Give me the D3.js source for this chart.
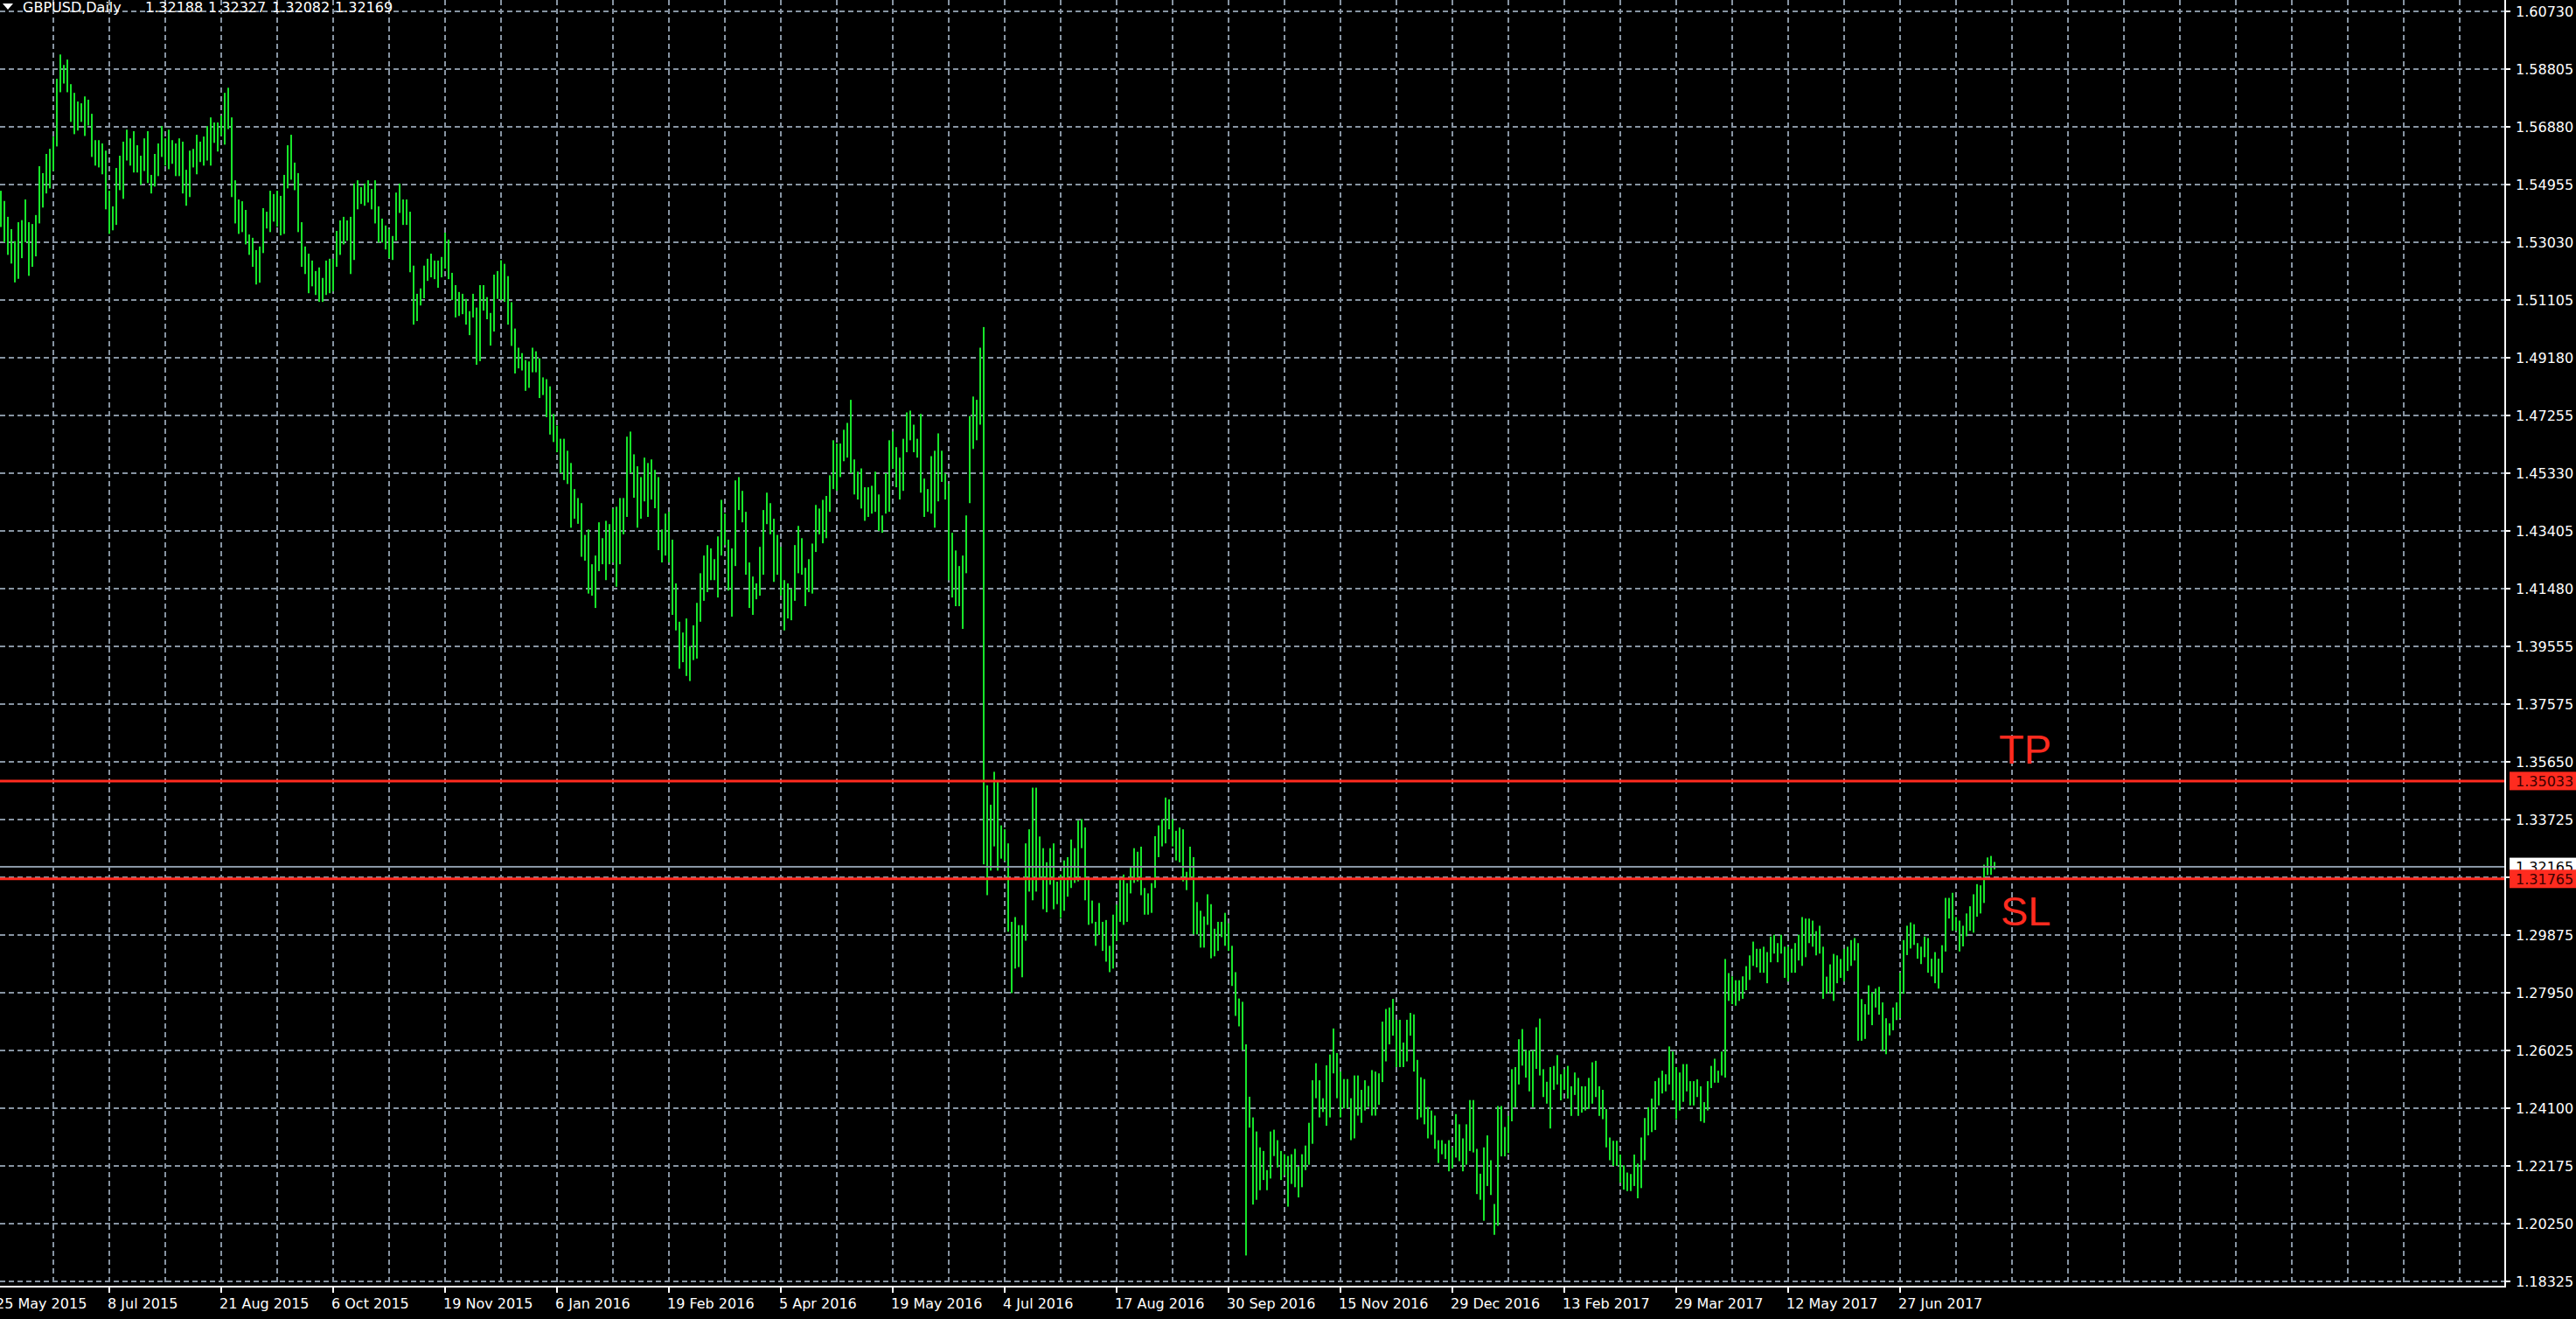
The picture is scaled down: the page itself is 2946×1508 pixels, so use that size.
<!DOCTYPE html>
<html><head><meta charset="utf-8">
<script src="https://cdn.jsdelivr.net/npm/d3@7"></script>
<style>html,body{margin:0;padding:0;background:#000;overflow:hidden}</style>
</head><body><svg id="c" width="2946" height="1508"></svg>
<script>
// ---- data (GBPUSD daily bars, index 1 = 26 May 2015) ----
const symbolTitle = "GBPUSD,Daily";
const lastBarOHLC = ["1.32188", "1.32327", "1.32082", "1.32169"];

const highs = [
1.5474,1.5440,1.5387,1.5346,1.5306,1.5369,1.5376,1.5445,1.5369,1.5363,
1.5393,1.5556,1.5533,1.5597,1.5614,1.5655,1.5848,1.5929,1.5894,1.5912,
1.5830,1.5801,1.5772,1.5766,1.5789,1.5778,1.5731,1.5643,1.5643,1.5632,
1.5608,1.5474,1.5422,1.5550,1.5591,1.5638,1.5678,1.5649,1.5673,1.5626,
1.5591,1.5649,1.5673,1.5527,1.5597,1.5632,1.5690,1.5649,1.5678,1.5643,
1.5632,1.5649,1.5638,1.5544,1.5608,1.5614,1.5661,1.5638,1.5655,1.5690,
1.5719,1.5702,1.5702,1.5725,1.5801,1.5818,1.5719,1.5509,1.5445,1.5439,
1.5410,1.5328,1.5317,1.5276,1.5288,1.5416,1.5404,1.5474,1.5463,1.5474,
1.5457,1.5527,1.5626,1.5661,1.5568,1.5533,1.5369,1.5288,1.5264,1.5241,
1.5206,1.5218,1.5183,1.5241,1.5247,1.5247,1.5340,1.5375,1.5387,1.5375,
1.5387,1.5498,1.5509,1.5486,1.5498,1.5509,1.5480,1.5509,1.5422,1.5381,
1.5358,1.5346,1.5323,1.5468,1.5498,1.5445,1.5445,1.5404,1.5224,1.5130,
1.5148,1.5224,1.5247,1.5264,1.5241,1.5241,1.5253,1.5334,1.5311,1.5200,
1.5159,1.5136,1.5130,1.5113,1.5072,1.5130,1.5084,1.5159,1.5159,1.5119,
1.5066,1.5194,1.5206,1.5242,1.5230,1.5189,1.5102,1.5014,1.4950,1.4932,
1.4909,1.4904,1.4950,1.4938,1.4915,1.4851,1.4845,1.4821,1.4729,1.4690,
1.4646,1.4646,1.4606,1.4565,1.4478,1.4448,1.4431,1.4325,1.4343,1.4227,
1.4256,1.4367,1.4314,1.4372,1.4361,1.4413,1.4419,1.4448,1.4448,1.4653,
1.4670,1.4594,1.4554,1.4518,1.4583,1.4565,1.4577,1.4542,1.4518,1.4343,
1.4396,1.4402,1.4309,1.4163,1.4035,1.3999,1.4046,1.3954,1.4023,1.4098,
1.4197,1.4256,1.4291,1.4280,1.4244,1.4320,1.4442,1.4396,1.4309,1.4280,
1.4507,1.4518,1.4472,1.4402,1.4233,1.4186,1.4163,1.4285,1.4408,1.4466,
1.4431,1.4379,1.4325,1.4285,1.4174,1.4163,1.4145,1.4291,1.4355,1.4314,
1.4215,1.4244,1.4296,1.4425,1.4413,1.4442,1.4455,1.4524,1.4641,1.4630,
1.4630,1.4676,1.4699,1.4776,1.4577,1.4536,1.4547,1.4484,1.4484,1.4489,
1.4536,1.4460,1.4390,1.4531,1.4641,1.4670,1.4618,1.4583,1.4646,1.4734,
1.4740,1.4693,1.4646,1.4729,1.4513,1.4478,1.4588,1.4606,1.4664,1.4606,
1.4530,1.4495,1.4332,1.4273,1.4221,1.4256,1.4390,1.4722,1.4787,1.4776,
1.4950,1.5019,1.3489,1.3424,1.3534,1.3500,1.3355,1.3342,1.3295,1.3033,
1.3049,1.3022,1.3022,1.3295,1.3342,1.3481,1.3481,1.3318,1.3279,1.3232,
1.3279,1.3295,1.3167,1.3191,1.3238,1.3249,1.3308,1.3279,1.3371,1.3376,
1.3348,1.3175,1.3104,1.3033,1.3096,1.3033,1.3039,1.2953,1.3057,1.3090,
1.3180,1.3191,1.3162,1.3215,1.3279,1.3267,1.3284,1.3146,1.3128,1.3162,
1.3319,1.3355,1.3376,1.3448,1.3442,1.3376,1.3337,1.3348,1.3342,1.3200,
1.3284,1.3249,1.3099,1.3070,1.3051,1.3125,1.3092,1.3010,1.3033,1.3033,
1.3063,1.3028,1.2953,1.2865,1.2777,1.2766,1.2624,1.2449,1.2380,1.2333,
1.2280,1.2268,1.2204,1.2333,1.2339,1.2304,1.2268,1.2257,1.2251,1.2257,
1.2275,1.2216,1.2257,1.2286,1.2362,1.2504,1.2561,1.2504,1.2444,1.2554,
1.2590,1.2677,1.2595,1.2533,1.2508,1.2508,1.2444,1.2520,1.2520,1.2472,
1.2504,1.2485,1.2538,1.2533,1.2527,1.2700,1.2742,1.2747,1.2776,1.2706,
1.2706,1.2630,1.2706,1.2729,1.2724,1.2572,1.2514,1.2508,1.2415,1.2403,
1.2386,1.2304,1.2304,1.2292,1.2304,1.2280,1.2391,1.2357,1.2310,1.2357,
1.2438,1.2438,1.2275,1.2192,1.2280,1.2320,1.2237,1.2091,1.2418,1.2418,
1.2348,1.2385,1.2541,1.2548,1.2641,1.2675,1.2604,1.2604,1.2604,1.2681,
1.2710,1.2541,1.2499,1.2548,1.2552,1.2588,1.2524,1.2541,1.2552,1.2484,
1.2530,1.2512,1.2484,1.2484,1.2512,1.2564,1.2569,1.2484,1.2472,1.2408,
1.2313,1.2302,1.2302,1.2256,1.2220,1.2196,1.2191,1.2256,1.2226,1.2313,
1.2378,1.2414,1.2443,1.2501,1.2512,1.2536,1.2524,1.2617,1.2600,1.2548,
1.2530,1.2558,1.2558,1.2501,1.2501,1.2507,1.2484,1.2431,1.2501,1.2552,
1.2576,1.2536,1.2600,1.2909,1.2862,1.2851,1.2838,1.2838,1.2851,1.2885,
1.2921,1.2967,1.2943,1.2943,1.2950,1.2932,1.2984,1.2990,1.2962,1.2990,
1.2950,1.2950,1.2943,1.2962,1.2990,1.3049,1.3044,1.3044,1.3037,1.3002,
1.3020,1.2950,1.2850,1.2891,1.2926,1.2921,1.2909,1.2943,1.2950,1.2972,
1.2979,1.2962,1.2775,1.2758,1.2821,1.2798,1.2810,1.2816,1.2764,1.2711,
1.2694,1.2747,1.2764,1.2863,1.2972,1.3020,1.3031,1.3025,1.2962,1.2950,
1.2984,1.2979,1.2910,1.2932,1.2910,1.2955,1.3113,1.3113,1.3130,1.3049,
1.3037,1.3020,1.3061,1.3085,1.3125,1.3159,1.3155,1.3224,1.3248,1.3253,
1.3233
];

const lows = [
1.5353,1.5302,1.5260,1.5231,1.5168,1.5180,1.5249,1.5302,1.5190,1.5220,
1.5255,1.5365,1.5418,1.5465,1.5482,1.5540,1.5622,1.5803,1.5832,1.5803,
1.5704,1.5663,1.5675,1.5704,1.5657,1.5692,1.5587,1.5558,1.5552,1.5529,
1.5412,1.5330,1.5342,1.5360,1.5476,1.5447,1.5575,1.5558,1.5535,1.5535,
1.5494,1.5540,1.5500,1.5465,1.5488,1.5523,1.5587,1.5558,1.5546,1.5564,
1.5523,1.5523,1.5465,1.5424,1.5453,1.5552,1.5529,1.5570,1.5558,1.5575,
1.5558,1.5634,1.5605,1.5657,1.5628,1.5680,1.5453,1.5365,1.5330,1.5336,
1.5295,1.5260,1.5220,1.5161,1.5167,1.5266,1.5348,1.5336,1.5371,1.5354,
1.5325,1.5330,1.5482,1.5511,1.5476,1.5336,1.5220,1.5196,1.5132,1.5155,
1.5126,1.5103,1.5103,1.5126,1.5132,1.5138,1.5220,1.5260,1.5295,1.5307,
1.5196,1.5243,1.5412,1.5430,1.5424,1.5435,1.5412,1.5365,1.5301,1.5301,
1.5278,1.5249,1.5243,1.5307,1.5400,1.5360,1.5360,1.5202,1.5027,1.5039,
1.5091,1.5115,1.5173,1.5185,1.5179,1.5150,1.5185,1.5214,1.5179,1.5109,
1.5051,1.5056,1.5062,1.5027,1.4992,1.5051,1.4893,1.4905,1.5074,1.5045,
1.4957,1.5004,1.5113,1.5109,1.5103,1.5027,1.4956,1.4864,1.4881,1.4874,
1.4806,1.4816,1.4868,1.4868,1.4782,1.4792,1.4718,1.4660,1.4635,1.4601,
1.4531,1.4508,1.4495,1.4349,1.4379,1.4362,1.4252,1.4239,1.4129,1.4122,
1.4081,1.4204,1.4227,1.4174,1.4227,1.4233,1.4152,1.4227,1.4327,1.4385,
1.4531,1.4449,1.4349,1.4379,1.4437,1.4385,1.4443,1.4414,1.4274,1.4233,
1.4256,1.4233,1.4058,1.4006,1.3878,1.3900,1.3854,1.3837,1.3907,1.3912,
1.4035,1.4105,1.4134,1.4174,1.4174,1.4116,1.4256,1.4291,1.4139,1.4052,
1.4221,1.4408,1.4367,1.4192,1.4081,1.4058,1.4110,1.4122,1.4192,1.4361,
1.4327,1.4168,1.4192,1.4122,1.4006,1.4046,1.4040,1.4105,1.4197,1.4192,
1.4087,1.4134,1.4129,1.4268,1.4327,1.4297,1.4314,1.4402,1.4478,1.4472,
1.4518,1.4571,1.4583,1.4531,1.4460,1.4443,1.4413,1.4372,1.4385,1.4396,
1.4402,1.4338,1.4332,1.4396,1.4402,1.4547,1.4484,1.4443,1.4472,1.4601,
1.4641,1.4601,1.4583,1.4466,1.4385,1.4402,1.4396,1.4349,1.4437,1.4502,
1.4443,1.4174,1.4116,1.4087,1.4087,1.4011,1.4197,1.4431,1.4612,1.4641,
1.4693,1.3225,1.3122,1.3204,1.3285,1.3204,1.3244,1.3236,1.3000,1.2795,
1.2877,1.2882,1.2848,1.2970,1.3134,1.3105,1.3134,1.3175,1.3075,1.3065,
1.3157,1.3075,1.3092,1.3046,1.3070,1.3117,1.3146,1.3163,1.3168,1.3279,
1.3105,1.3023,1.3028,1.2953,1.2989,1.2936,1.2900,1.2865,1.2877,1.2970,
1.3033,1.3023,1.3033,1.3128,1.3163,1.3168,1.3122,1.3057,1.3057,1.3063,
1.3146,1.3249,1.3285,1.3295,1.3342,1.3285,1.3238,1.3232,1.3168,1.3139,
1.3175,1.2991,1.2991,1.2947,1.2947,1.3023,1.2911,1.2918,1.2936,1.2982,
1.2953,1.2936,1.2819,1.2719,1.2684,1.2605,1.1919,1.2346,1.2089,1.2105,
1.2137,1.2171,1.2137,1.2176,1.2251,1.2213,1.2171,1.2187,1.2082,1.2158,
1.2147,1.2113,1.2147,1.2204,1.2222,1.2292,1.2444,1.2380,1.2398,1.2352,
1.2380,1.2527,1.2444,1.2380,1.2410,1.2410,1.2304,1.2310,1.2386,1.2362,
1.2403,1.2415,1.2386,1.2386,1.2422,1.2498,1.2567,1.2624,1.2653,1.2548,
1.2548,1.2548,1.2567,1.2653,1.2533,1.2373,1.2380,1.2357,1.2310,1.2322,
1.2275,1.2228,1.2257,1.2241,1.2200,1.2210,1.2246,1.2234,1.2200,1.2222,
1.2268,1.2263,1.2124,1.2105,1.2035,1.2151,1.2121,1.1988,1.2018,1.2250,
1.2250,1.2261,1.2367,1.2414,1.2490,1.2553,1.2513,1.2467,1.2414,1.2542,
1.2520,1.2448,1.2426,1.2343,1.2472,1.2490,1.2437,1.2472,1.2443,1.2385,
1.2455,1.2385,1.2396,1.2403,1.2408,1.2426,1.2448,1.2385,1.2374,1.2280,
1.2237,1.2218,1.2218,1.2162,1.2139,1.2134,1.2134,1.2151,1.2110,1.2144,
1.2237,1.2320,1.2331,1.2338,1.2420,1.2460,1.2467,1.2490,1.2437,1.2374,
1.2403,1.2432,1.2467,1.2420,1.2420,1.2448,1.2367,1.2362,1.2403,1.2478,
1.2496,1.2496,1.2520,1.2513,1.2769,1.2758,1.2753,1.2769,1.2776,1.2805,
1.2839,1.2886,1.2881,1.2863,1.2863,1.2828,1.2898,1.2927,1.2898,1.2927,
1.2846,1.2834,1.2863,1.2863,1.2904,1.2886,1.2915,1.2962,1.2950,1.2921,
1.2927,1.2776,1.2793,1.2793,1.2769,1.2828,1.2846,1.2834,1.2869,1.2886,
1.2904,1.2636,1.2636,1.2642,1.2723,1.2688,1.2747,1.2723,1.2602,1.2591,
1.2654,1.2671,1.2705,1.2712,1.2793,1.2922,1.2944,1.2956,1.2910,1.2892,
1.2915,1.2863,1.2851,1.2828,1.2810,1.2863,1.2934,1.3044,1.3003,1.3003,
1.2934,1.2951,1.2985,1.3003,1.2997,1.3050,1.3061,1.3096,1.3189,1.3190,
1.3208
];

const dateLabels = ["25 May 2015","8 Jul 2015","21 Aug 2015","6 Oct 2015","19 Nov 2015","6 Jan 2016",
  "19 Feb 2016","5 Apr 2016","19 May 2016","4 Jul 2016","17 Aug 2016","30 Sep 2016","15 Nov 2016",
  "29 Dec 2016","13 Feb 2017","29 Mar 2017","12 May 2017","27 Jun 2017"];
const dateLabelBars = [0,32,64,96,128,160,192,224,256,288,320,352,384,416,448,480,512,544];

const priceLabels = ["1.60730","1.58805","1.56880","1.54955","1.53030","1.51105","1.49180","1.47255",
  "1.45330","1.43405","1.41480","1.39555","1.37575","1.35650","1.33725","1.31800","1.29875","1.27950",
  "1.26025","1.24100","1.22175","1.20250","1.18325"];
const priceMax = 1.60730, priceMin = 1.18325;

const levels = [
  {name: "TP", value: 1.35033, label: "1.35033"},
  {name: "SL", value: 1.31765, label: "1.31765"}
];
const bid = {value: 1.32165, label: "1.32165"};

// ---- layout ----
const W = 2946, H = 1508;
const plotRight = 2865, plotBottom = 1471;
const GRID = "#8794a2", BAR = "#17e52a", RED = "#ff2b1f";
const FONT = "DejaVu Sans, Verdana, sans-serif";

const svg = d3.select("#c");
svg.append("rect").attr("width", W).attr("height", H).attr("fill", "#000");

const x = d3.scaleLinear().domain([1, highs.length]).range([1, 1 + 4 * (highs.length - 1)]);
const y = d3.scaleLinear().domain([priceMin, priceMax]).range([1465, 13]);

// grid: horizontal
const nIntervals = priceLabels.length - 1;
const gridVals = priceLabels.map((_, k) => priceMax - k * (priceMax - priceMin) / nIntervals);
const g = svg.append("g");
g.selectAll("line.h").data(gridVals).join("line")
  .attr("x1", 0).attr("x2", plotRight - 1)
  .attr("y1", d => Math.round(y(d))).attr("y2", d => Math.round(y(d)))
  .attr("stroke", GRID).attr("stroke-width", 2).attr("stroke-dasharray", "6,4");
// grid: vertical (every 16 bars)
const vGrid = d3.range(16, 800, 16).filter(i => x(i) < plotRight - 8);
g.selectAll("line.v").data(vGrid).join("line")
  .attr("x1", d => x(d)).attr("x2", d => x(d))
  .attr("y1", 0).attr("y2", plotBottom - 1)
  .attr("stroke", GRID).attr("stroke-width", 2).attr("stroke-dasharray", "6,4");

// bars
const bars = highs.map((h, k) => ({i: k + 1, h, l: lows[k]}));
svg.append("g").selectAll("rect").data(bars).join("rect")
  .attr("x", d => x(d.i) - 1).attr("width", 2)
  .attr("y", d => y(d.h))
  .attr("height", d => Math.max(1, y(d.l) - y(d.h)))
  .attr("fill", BAR);

// bid line
svg.append("line").attr("x1", 0).attr("x2", plotRight)
  .attr("y1", y(bid.value)).attr("y2", y(bid.value))
  .attr("stroke", "#8a97a5").attr("stroke-width", 2);
// TP / SL lines
svg.append("g").selectAll("line").data(levels).join("line")
  .attr("x1", 0).attr("x2", plotRight)
  .attr("y1", d => y(d.value)).attr("y2", d => y(d.value))
  .attr("stroke", RED).attr("stroke-width", 3);

// axes lines
svg.append("line").attr("x1", plotRight).attr("x2", plotRight).attr("y1", 0).attr("y2", plotBottom + 1)
  .attr("stroke", "#fff").attr("stroke-width", 2);
svg.append("line").attr("x1", 0).attr("x2", plotRight + 1).attr("y1", plotBottom).attr("y2", plotBottom)
  .attr("stroke", "#fff").attr("stroke-width", 2);

// price ticks + labels
const pa = svg.append("g");
pa.selectAll("line").data(gridVals).join("line")
  .attr("x1", plotRight).attr("x2", plotRight + 6)
  .attr("y1", d => Math.round(y(d))).attr("y2", d => Math.round(y(d)))
  .attr("stroke", "#fff").attr("stroke-width", 2);
pa.selectAll("text").data(gridVals).join("text")
  .attr("x", 2877).attr("y", d => Math.round(y(d)) + 6)
  .attr("fill", "#fff").attr("font-family", FONT).attr("font-size", 16)
  .text((d, k) => priceLabels[k]);

// date ticks + labels
const da = svg.append("g");
da.selectAll("line").data(dateLabelBars).join("line")
  .attr("x1", d => x(d)).attr("x2", d => x(d))
  .attr("y1", plotBottom).attr("y2", plotBottom + 7)
  .attr("stroke", "#fff").attr("stroke-width", 2);
da.selectAll("text").data(dateLabelBars).join("text")
  .attr("x", d => x(d) - 2).attr("y", 1496)
  .attr("fill", "#fff").attr("font-family", FONT).attr("font-size", 16)
  .text((d, k) => dateLabels[k]);

// level price boxes on axis
function box(v, label, bg, fg) {
  const cy = y(v);
  svg.append("rect").attr("x", 2870).attr("y", cy - 10.5).attr("width", W - 2870).attr("height", 21).attr("fill", bg);
  svg.append("text").attr("x", 2877).attr("y", cy + 6).attr("fill", fg)
    .attr("font-family", FONT).attr("font-size", 16).text(label);
}
box(bid.value, bid.label, "#fff", "#000");
levels.forEach(l => box(l.value, l.label, RED, "#3a0000"));

// TP / SL text markers
svg.append("text").attr("x", 2286).attr("y", 873).attr("fill", RED)
  .attr("font-family", "Liberation Sans, Arial, sans-serif").attr("font-size", 47).text(levels[0].name);
svg.append("text").attr("x", 2288).attr("y", 1058).attr("fill", RED)
  .attr("font-family", "Liberation Sans, Arial, sans-serif").attr("font-size", 47).text(levels[1].name);

// title
svg.append("path").attr("d", "M3,4 L15,4 L9,11 Z").attr("fill", "#fff");
const tg = svg.append("g").attr("fill", "#fff").attr("font-family", FONT).attr("font-size", 16);
tg.append("text").attr("x", 26).attr("y", 14).text(symbolTitle);
const titleX = [166, 238, 311, 383];
tg.selectAll("text.v").data(lastBarOHLC).join("text").attr("class", "v")
  .attr("x", (d, k) => titleX[k]).attr("y", 14).text(d => d);
</script>
</body></html>
